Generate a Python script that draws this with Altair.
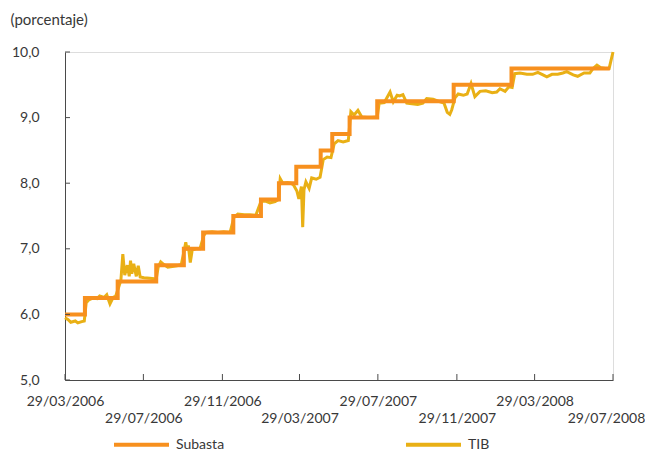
import altair as alt
import pandas as pd

inicio = "2006-03-29"

subasta_fechas = ["2006-03-29", "2006-04-29", "2006-06-19", "2006-08-18", "2006-09-30",
                  "2006-10-30", "2006-12-16", "2007-01-28", "2007-02-25", "2007-03-24",
                  "2007-05-01", "2007-05-19", "2007-06-15", "2007-07-28", "2007-11-24",
                  "2008-02-22", "2008-07-24"]
subasta_valores = [6.00, 6.25, 6.50, 6.75, 7.00, 7.25, 7.50, 7.75, 8.00, 8.25,
                   8.50, 8.75, 9.00, 9.25, 9.50, 9.75, 9.75]

# TIB: days elapsed since 29/03/2006 and rate
tib_dias = [0, 5, 9, 16, 20, 26, 30, 33, 37, 44,
            50, 54, 61, 65, 70, 75, 79, 83, 87, 90,
            93, 97, 100, 102, 104, 107, 111, 114, 117, 123,
            132, 142, 145, 149, 154, 160, 167, 174, 181, 185,
            188, 190, 192, 195, 198, 204, 210, 216, 219, 229,
            238, 247, 257, 263, 269, 279, 288, 297, 305, 311,
            319, 327, 332, 335, 339, 346, 352, 356, 361, 364,
            368, 370, 372, 375, 380, 384, 391, 397, 402, 408,
            414, 419, 425, 433, 441, 445, 450, 456, 462, 470,
            478, 486, 489, 497, 506, 511, 517, 521, 526, 532,
            540, 549, 557, 563, 573, 584, 590, 595, 599, 602,
            607, 612, 620, 626, 632, 638, 646, 655, 665, 672,
            677, 685, 691, 696, 700, 708, 719, 728, 736, 744,
            750, 758, 767, 775, 781, 791, 798, 808, 817, 822,
            828, 834, 841, 847, 853]
tib_valores = [5.95, 5.92, 5.88, 5.90, 5.87, 5.89, 5.90, 6.18, 6.22, 6.25,
               6.24, 6.28, 6.26, 6.30, 6.16, 6.26, 6.28, 6.40, 6.52, 6.92,
               6.60, 6.75, 6.58, 6.82, 6.62, 6.77, 6.58, 6.74, 6.57, 6.56,
               6.55, 6.54, 6.72, 6.80, 6.76, 6.72, 6.73, 6.74, 6.76, 6.95,
               7.10, 6.98, 7.05, 6.79, 6.98, 7.00, 7.00, 7.20, 7.25, 7.26,
               7.25, 7.26, 7.25, 7.48, 7.53, 7.52, 7.52, 7.51, 7.72, 7.73,
               7.70, 7.72, 7.75, 8.07, 8.00, 8.01, 8.00, 7.97, 7.88, 7.76,
               7.95, 7.33, 7.90, 8.02, 7.92, 8.08, 8.06, 8.09, 8.36, 8.40,
               8.39, 8.60, 8.65, 8.63, 8.65, 9.09, 9.04, 9.11, 9.01, 9.00,
               9.00, 9.01, 9.22, 9.23, 9.39, 9.24, 9.34, 9.33, 9.35, 9.22,
               9.21, 9.20, 9.22, 9.29, 9.28, 9.24, 9.22, 9.08, 9.05, 9.12,
               9.30, 9.36, 9.34, 9.36, 9.52, 9.32, 9.40, 9.41, 9.38, 9.39,
               9.44, 9.40, 9.47, 9.46, 9.67, 9.68, 9.66, 9.66, 9.69, 9.65,
               9.62, 9.66, 9.66, 9.68, 9.70, 9.65, 9.63, 9.68, 9.68, 9.75,
               9.80, 9.76, 9.75, 9.75, 10.0]

x_ticks = ["2006-03-29", "2006-07-29", "2006-11-29", "2007-03-29",
           "2007-07-29", "2007-11-29", "2008-03-29", "2008-07-29"]
y_ticks = [5, 6, 7, 8, 9, 10]

series = ["Subasta", "TIB"]
colores = ["#F7901E", "#E9B015"]

FONT = "Lato"
TXT = "#383838"
AXC = "#4a4a4a"

subasta_df = pd.DataFrame({"fecha": pd.to_datetime(subasta_fechas),
                           "valor": subasta_valores, "serie": "Subasta"})
tib_df = pd.DataFrame({"fecha": pd.to_datetime(inicio) + pd.to_timedelta(tib_dias, unit="D"),
                       "valor": tib_valores, "serie": "TIB"})
xt_df = pd.DataFrame({"fecha": pd.to_datetime(x_ticks)})
yt_df = pd.DataFrame({"valor": y_ticks})


def dt(s):
    y, m, d = (int(p) for p in s.split("-"))
    return alt.DateTime(year=y, month=m, date=d)


xscale = alt.Scale(domain=[dt(x_ticks[0]), dt(x_ticks[-1])])
yscale = alt.Scale(domain=[5, 10], nice=False, zero=False)

xaxis = alt.Axis(
    values=[dt(s) for s in x_ticks], format="%d/%m/%Y", title=None,
    labelFont=FONT, labelFontSize=14, labelColor=TXT,
    labelPadding={"condition": {"test": "(month(datum.value) + 12*year(datum.value)) % 8 == 6",
                                "value": 31}, "value": 14},
    labelOffset={"condition": {"test": "year(datum.value) == 2008 && month(datum.value) == 6",
                               "value": -7}, "value": 0},
    labelFlush=False, labelOverlap=False, labelBound=False,
    ticks=False, tickSize=0, grid=False, domainColor=AXC, domainWidth=1,
)
yaxis = alt.Axis(
    values=y_ticks, labelExpr="replace(format(datum.value, '.1f'), '.', ',')",
    labelFont=FONT, labelFontSize=14, labelColor=TXT, labelPadding=26,
    ticks=False, tickSize=0, grid=False, domainColor=AXC, domainWidth=1,
    title="(porcentaje)", titleAngle=0, titleX=-55, titleY=-33, titleAlign="left",
    titleBaseline="middle", titleFont=FONT, titleFontSize=15, titleFontWeight="normal",
    titleColor=TXT,
)

X = alt.X("fecha:T", scale=xscale, axis=xaxis)
Y = alt.Y("valor:Q", scale=yscale, axis=yaxis)

color = alt.Color("serie:N", scale=alt.Scale(domain=series, range=colores),
                  legend=alt.Legend(title=None, orient="none", legendX=47, legendY=363,
                                    direction="horizontal", symbolType="stroke",
                                    symbolSize=3025, symbolStrokeWidth=4,
                                    labelFont=FONT, labelFontSize=14, labelColor=TXT,
                                    labelOffset=5, columnPadding=173, padding=0))

tib = alt.Chart(tib_df).mark_line(strokeWidth=3).encode(x=X, y=Y, color=color)
subasta = alt.Chart(subasta_df).mark_line(strokeWidth=4, interpolate="step-after").encode(
    x=X, y=Y, color=color)
xticks = alt.Chart(xt_df).mark_rule(color=AXC, strokeWidth=1).encode(
    x=X, y=alt.value(328), y2=alt.value(322))
yticks = alt.Chart(yt_df).mark_rule(color=AXC, strokeWidth=1).encode(
    y=Y, x=alt.value(0), x2=alt.value(5))

chart = alt.layer(tib, subasta, xticks, yticks).properties(
    width=548, height=328,
    autosize=alt.AutoSizeParams(type="none"),
    padding={"left": 57, "top": 44, "right": 32, "bottom": 74},
).configure_view(stroke=None).configure(background="white")

chart.save("out.html", embed_options={"renderer": "svg", "actions": False})
